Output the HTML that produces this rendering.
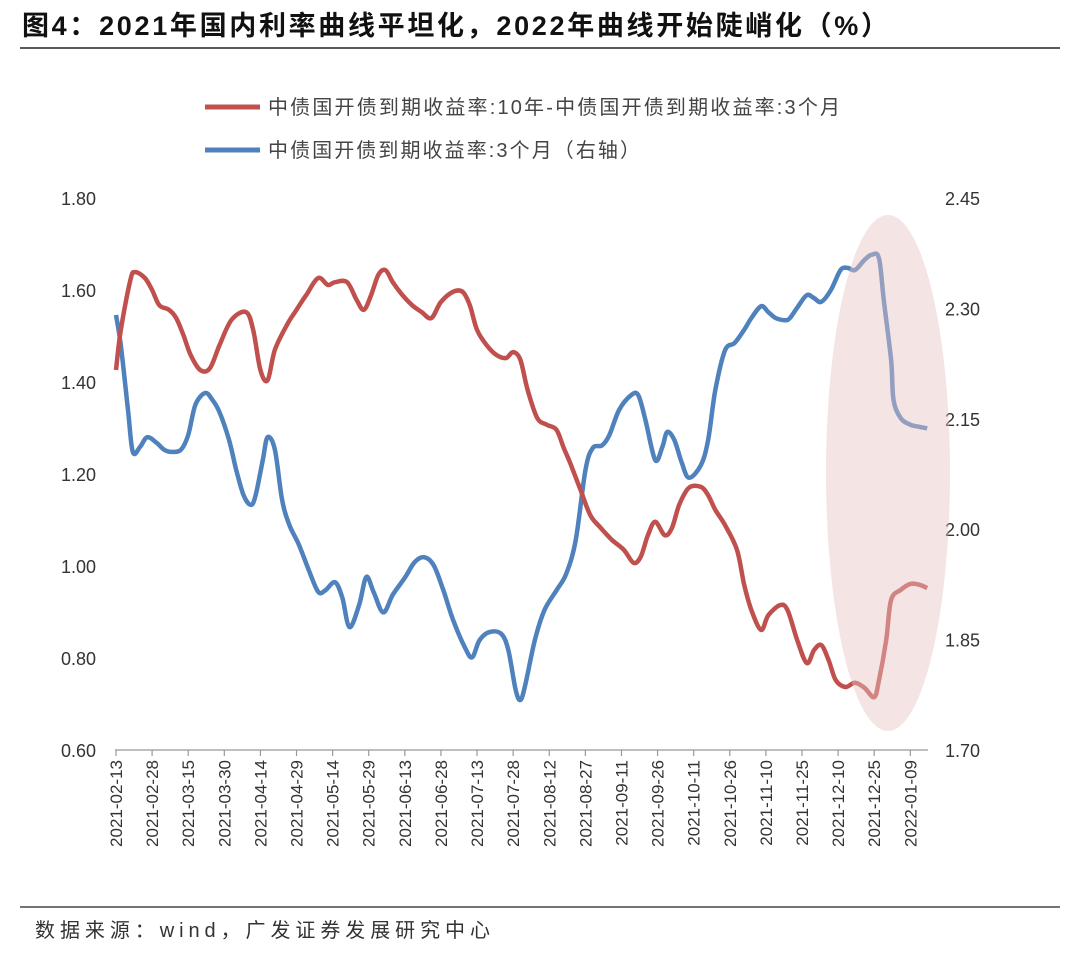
<!DOCTYPE html>
<html><head><meta charset="utf-8">
<style>
html,body{margin:0;padding:0;background:#fff;}
body{width:1080px;height:955px;overflow:hidden;font-family:"Liberation Sans","Noto Sans CJK SC",sans-serif;}
svg text{font-family:"Liberation Sans","Noto Sans CJK SC",sans-serif;}
</style></head>
<body>
<svg id="chart" width="1080" height="955" xmlns="http://www.w3.org/2000/svg">
<text x="22" y="35" font-size="27" font-weight="bold" fill="#111" textLength="866" lengthAdjust="spacing">图4：2021年国内利率曲线平坦化，2022年曲线开始陡峭化（%）</text>
<line x1="20" y1="48" x2="1060" y2="48" stroke="#222" stroke-width="1.5"/>
<g>
<g>
<line x1="205" y1="107" x2="260" y2="107" stroke="#c0504d" stroke-width="5"/>
<text x="268" y="114" font-size="20" fill="#444" textLength="572" lengthAdjust="spacing">中债国开债到期收益率:10年-中债国开债到期收益率:3个月</text></g>
<g>
<line x1="205" y1="150" x2="260" y2="150" stroke="#4f81bd" stroke-width="5"/>
<text x="268" y="157" font-size="20" fill="#444" textLength="372" lengthAdjust="spacing">中债国开债到期收益率:3个月（右轴）</text></g>
</g>
<g id="axes"></g>
<g id="series"></g>
<ellipse cx="888" cy="473" rx="62" ry="258" fill="#e8c4c4" fill-opacity="0.45"/>
<line x1="20" y1="907" x2="1060" y2="907" stroke="#222" stroke-width="1.2"/>
<text x="35" y="937" font-size="20" fill="#333" textLength="455" lengthAdjust="spacing">数据来源：wind，广发证券发展研究中心</text>
</svg>
<script>
const tickLabels=["2021-02-13","2021-02-28","2021-03-15","2021-03-30","2021-04-14","2021-04-29","2021-05-14","2021-05-29","2021-06-13","2021-06-28","2021-07-13","2021-07-28","2021-08-12","2021-08-27","2021-09-11","2021-09-26","2021-10-11","2021-10-26","2021-11-10","2021-11-25","2021-12-10","2021-12-25","2022-01-09"];
const leftTicks=["0.60","0.80","1.00","1.20","1.40","1.60","1.80"];
const rightTicks=["1.70","1.85","2.00","2.15","2.30","2.45"];
const spreadDays=[0,2,6,8,12,15,18,22,25,28,31,35,39,43,48,54,57,60,63,66,71,75,79,84,88,91,96,100,103,106,109,112,115,119,123,127,131,135,140,144,147,150,154,158,162,165,168,171,175,179,183,186,189,193,197,201,206,211,215,218,221,224,228,231,234,238,243,246,249,253,258,261,264,268,271,276,279,283,287,290,293,296,299,303,307,311,315,317,320,322,326,330,334,337];
const spreadVals=[1.426,1.513,1.622,1.639,1.626,1.600,1.567,1.557,1.539,1.502,1.459,1.426,1.430,1.480,1.535,1.552,1.513,1.426,1.404,1.470,1.524,1.557,1.589,1.626,1.611,1.617,1.617,1.578,1.557,1.589,1.633,1.643,1.617,1.589,1.567,1.552,1.539,1.574,1.596,1.596,1.567,1.513,1.480,1.459,1.452,1.465,1.448,1.383,1.322,1.307,1.296,1.257,1.220,1.165,1.111,1.085,1.057,1.035,1.007,1.020,1.067,1.096,1.067,1.083,1.133,1.170,1.172,1.154,1.122,1.089,1.035,0.959,0.904,0.861,0.893,0.915,0.904,0.839,0.789,0.817,0.828,0.796,0.752,0.737,0.746,0.735,0.715,0.752,0.839,0.926,0.948,0.961,0.959,0.952];
const y3mDays=[0,2,5,7,10,13,17,20,23,27,30,33,37,40,43,47,50,53,56,58,61,63,66,69,72,76,80,84,87,91,94,97,101,104,107,111,115,120,124,128,132,136,140,145,148,151,155,160,163,166,168,170,174,178,183,187,191,195,198,202,205,209,214,217,220,224,227,229,232,235,238,243,246,249,253,257,261,264,268,271,274,278,280,283,287,290,293,297,301,304,307,311,314,317,319,322,323,326,330,334,337];
const y3mVals=[2.291,2.250,2.162,2.105,2.112,2.125,2.117,2.108,2.105,2.108,2.128,2.169,2.185,2.176,2.159,2.121,2.080,2.046,2.033,2.046,2.094,2.125,2.108,2.040,2.006,1.979,1.945,1.915,1.917,1.928,1.907,1.867,1.897,1.935,1.915,1.887,1.911,1.934,1.955,1.962,1.951,1.917,1.877,1.839,1.826,1.849,1.860,1.858,1.836,1.782,1.768,1.788,1.849,1.890,1.917,1.939,1.985,2.080,2.110,2.114,2.128,2.162,2.182,2.182,2.148,2.094,2.112,2.132,2.121,2.091,2.070,2.087,2.121,2.189,2.243,2.253,2.271,2.287,2.303,2.295,2.287,2.284,2.287,2.301,2.318,2.314,2.309,2.325,2.352,2.355,2.352,2.366,2.373,2.368,2.311,2.230,2.176,2.151,2.142,2.139,2.137];

const NS="http://www.w3.org/2000/svg";
const X0=116, PXDAY=2.407, YTOP=198, YBOT=750;
const xScale=d=>X0+d*PXDAY;
const yL=v=>YBOT-(v-0.6)/(1.8-0.6)*(YBOT-YTOP);
const yR=v=>YBOT-(v-1.7)/(2.45-1.7)*(YBOT-YTOP);
function mk(tag,attrs,parent,txt){const e=document.createElementNS(NS,tag);for(const k in attrs)e.setAttribute(k,attrs[k]);if(txt!==undefined)e.textContent=txt;parent.appendChild(e);return e;}
const axes=document.getElementById('axes');
const xa=mk('line',{x1:115,y1:YBOT,x2:928,y2:YBOT,stroke:'#999','stroke-width':1.2},axes);


tickLabels.forEach((t,i)=>{
  const x=xScale(i*15);
  const tk=mk('line',{x1:x,y1:YBOT,x2:x,y2:YBOT+6,stroke:'#999','stroke-width':1.2},axes);
  
  
  const lb=mk('text',{x:0,y:0,transform:`translate(${x+6},760) rotate(-90)`,'text-anchor':'end','font-size':17,fill:'#333'},axes,t);
  
  
});
leftTicks.forEach(t=>{
  const lb=mk('text',{x:96,y:yL(parseFloat(t))+7,'text-anchor':'end','font-size':18,fill:'#333'},axes,t);
  
  
});
rightTicks.forEach(t=>{
  const lb=mk('text',{x:945,y:yR(parseFloat(t))+7,'text-anchor':'start','font-size':18,fill:'#333'},axes,t);
  
  
});
function smooth(pts){
  let d=`M${pts[0][0]},${pts[0][1]}`;
  for(let i=0;i<pts.length-1;i++){
    const p0=pts[Math.max(0,i-1)],p1=pts[i],p2=pts[i+1],p3=pts[Math.min(pts.length-1,i+2)];
    const c1=[p1[0]+(p2[0]-p0[0])/6,p1[1]+(p2[1]-p0[1])/6];
    const c2=[p2[0]-(p3[0]-p1[0])/6,p2[1]-(p3[1]-p1[1])/6];
    d+=` C${c1[0].toFixed(1)},${c1[1].toFixed(1)} ${c2[0].toFixed(1)},${c2[1].toFixed(1)} ${p2[0].toFixed(1)},${p2[1].toFixed(1)}`;
  }
  return d;
}
const sg=document.getElementById('series');
const pb=mk('path',{d:smooth(y3mDays.map((d,i)=>[xScale(d),yR(y3mVals[i])])),fill:'none',stroke:'#4f81bd','stroke-width':4.5,'stroke-linejoin':'round'},sg);


const pr=mk('path',{d:smooth(spreadDays.map((d,i)=>[xScale(d),yL(spreadVals[i])])),fill:'none',stroke:'#c0504d','stroke-width':4.5,'stroke-linejoin':'round'},sg);


</script>
</body></html>
